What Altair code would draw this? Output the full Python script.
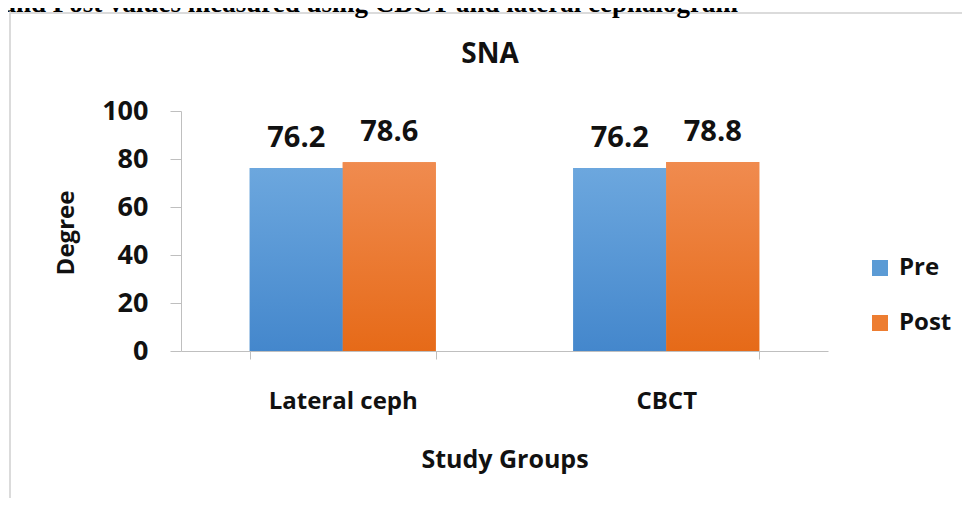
import altair as alt
import pandas as pd

# ---- data ----
groups = ["Lateral ceph", "CBCT"]
series = ["Pre", "Post"]
pre_values = [76.2, 76.2]
post_values = [78.6, 78.8]
y_ticks = [0, 20, 40, 60, 80, 100]
chart_title = "SNA"
x_title = "Study Groups"
y_title = "Degree"
header_text = "Pre and Post values measured using CBCT and lateral cephalogram"

rows = []
for i, g in enumerate(groups):
    rows.append({"group": g, "series": "Pre", "value": pre_values[i], "label": f"{pre_values[i]:.1f}"})
    rows.append({"group": g, "series": "Post", "value": post_values[i], "label": f"{post_values[i]:.1f}"})
df = pd.DataFrame(rows)

W, H = 647, 240
FONT = "Open Sans"
GRAY = "#bfbfbf"
INK = "#111111"

x_enc = alt.X(
    "group:N", sort=groups,
    scale=alt.Scale(paddingInner=0.425, paddingOuter=0.2125),
    axis=alt.Axis(
        title=x_title, labelAngle=0, tickBand="extent", tickSize=8, zindex=1,
        tickColor=GRAY, domainColor=GRAY, labelFont=FONT, labelFontSize=24,
        labelFontWeight="bold", labelColor=INK, labelPadding=30,
        titleFont=FONT, titleFontSize=25, titleFontWeight="bold", titleColor=INK,
        titleX=323.5, titleY=108.5, titleBaseline="middle", titleAlign="center",
    ),
)
xoff = alt.XOffset("series:N", sort=series, scale=alt.Scale(domain=series, paddingInner=0, paddingOuter=0))
y_enc = alt.Y(
    "value:Q", scale=alt.Scale(domain=[0, 100], nice=False),
    axis=alt.Axis(
        values=y_ticks, grid=False, tickSize=11, tickColor=GRAY, domainColor=GRAY, zindex=1,
        labelFont=FONT, labelFontSize=27, labelFontWeight="bold", labelColor=INK,
        labelPadding=22, title=y_title, titleFont=FONT, titleFontSize=24,
        titleFontWeight="bold", titleColor=INK, titleAngle=270,
        titleX=-115, titleY=121.5, titleAlign="center", titleBaseline="middle",
    ),
)
color = alt.Color(
    "series:N", sort=series,
    scale=alt.Scale(domain=series, range=["#5B9BD5", "#ED7D31"]),
    legend=alt.Legend(
        title=None, orient="none", legendX=687, legendY=145, symbolType="square",
        symbolSize=256, symbolStrokeWidth=0, labelFont=FONT, labelFontSize=24,
        labelFontWeight="bold", labelColor=INK, labelOffset=7, rowPadding=31,
    ),
)

base = alt.Chart(df)
bars = base.mark_bar().encode(x=x_enc, xOffset=xoff, y=y_enc, color=color)

grad_blue = alt.Gradient(
    gradient="linear", x1=0, x2=0, y1=0, y2=1,
    stops=[alt.GradientStop(color="#6CA7DE", offset=0), alt.GradientStop(color="#4487CC", offset=1)],
)
grad_orange = alt.Gradient(
    gradient="linear", x1=0, x2=0, y1=0, y2=1,
    stops=[alt.GradientStop(color="#F08B4F", offset=0), alt.GradientStop(color="#E66A18", offset=1)],
)
pre_grad = base.transform_filter(alt.datum.series == "Pre").mark_bar(fill=grad_blue).encode(
    x=alt.X("group:N", sort=groups), xOffset=alt.XOffset("series:N", sort=series), y="value:Q")
post_grad = base.transform_filter(alt.datum.series == "Post").mark_bar(fill=grad_orange).encode(
    x=alt.X("group:N", sort=groups), xOffset=alt.XOffset("series:N", sort=series), y="value:Q")

labels = base.mark_text(
    font=FONT, fontSize=29, fontWeight="bold", color=INK, baseline="alphabetic", dy=-21
).encode(x=alt.X("group:N", sort=groups), xOffset=alt.XOffset("series:N", sort=series),
         y="value:Q", text="label:N")

title_df = pd.DataFrame({"t": [chart_title]})
title_mark = alt.Chart(title_df).mark_text(
    font=FONT, fontSize=28, fontWeight="bold", color=INK, baseline="middle", align="center"
).encode(text="t:N", x=alt.value(309), y=alt.value(-56))

header_df = pd.DataFrame({"t": [header_text]})
header_mark = alt.Chart(header_df).mark_text(
    font="Liberation Serif", fontSize=27, fontWeight="bold", color="#000000",
    baseline="alphabetic", align="right"
).encode(text="t:N", x=alt.value(557), y=alt.value(-99))

frame_df = pd.DataFrame({"f": [1]})
frame = alt.Chart(frame_df).mark_rect(
    fillOpacity=0, stroke="#cfcfcf", strokeWidth=1.5
).encode(x=alt.value(-171), x2=alt.value(800), y=alt.value(-98), y2=alt.value(400))

chart = alt.layer(frame, header_mark, bars, pre_grad, post_grad, labels, title_mark).properties(
    width=W, height=H,
    padding={"left": 173, "top": 103, "right": 134, "bottom": 147},
    autosize=alt.AutoSizeParams(type="none"),
    background="white",
).configure_view(stroke="transparent")

chart.save("out.html", embed_options={"renderer": "svg", "actions": False})
